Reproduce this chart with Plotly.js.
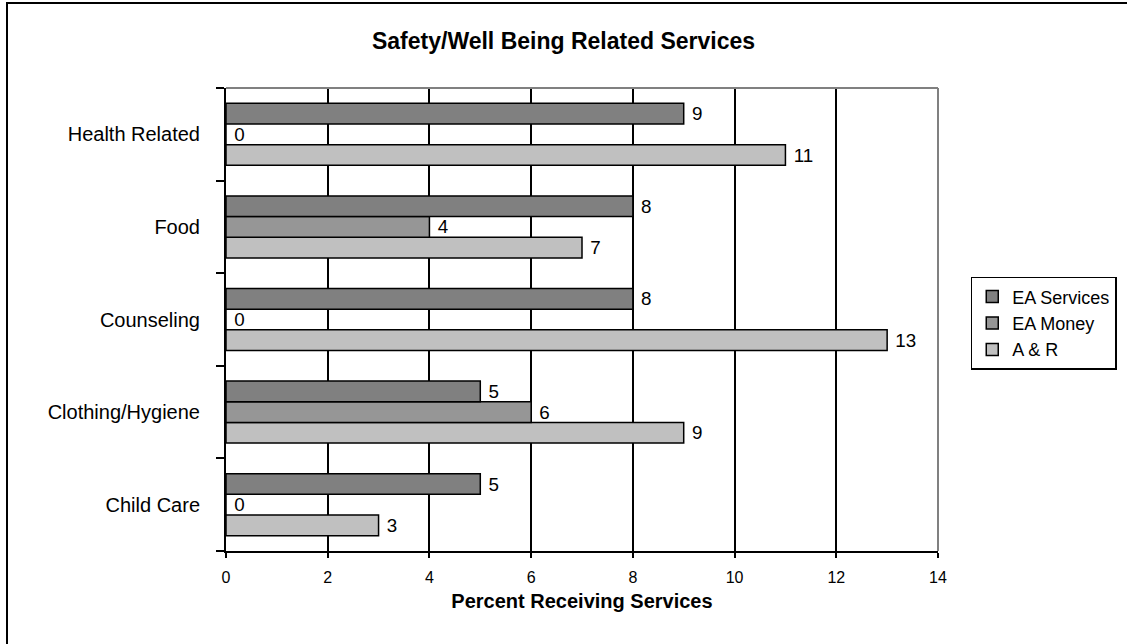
<!DOCTYPE html>
<html>
<head>
<meta charset="utf-8">
<script src="https://cdn.plot.ly/plotly-3.0.1.min.js"></script>
<style>
  html, body { margin: 0; padding: 0; background: #fff; }
  #chart { width: 1127px; height: 644px; }
  #frame { position: absolute; left: 6px; top: 2px; width: 1200px; height: 700px;
           border-left: 2px solid #000; border-top: 2px solid #000; pointer-events: none; }
</style>
</head>
<body>
<div id="chart"></div>
<div id="frame"></div>
<script>
const categories = ["Child Care", "Clothing/Hygiene", "Counseling", "Food", "Health Related"];
const eaServices = [5, 5, 8, 8, 9];
const eaMoney    = [0, 6, 0, 4, 0];
const aAndR      = [3, 9, 13, 7, 11];
const seriesNames = ["EA Services", "EA Money", "A & R"];
const xTicks = [0, 2, 4, 6, 8, 10, 12, 14];

const FONT = "Arial, 'Liberation Sans', sans-serif";

function barTrace(name, values, color) {
  return {
    type: "bar",
    orientation: "h",
    name: name,
    y: categories,
    x: values,
    texttemplate: "\u00a0%{x}",
    textposition: "outside",
    textfont: { family: FONT, size: 20, color: "#000" },
    cliponaxis: false,
    marker: { color: color, line: { color: "#000", width: 1.5 } },
    hoverinfo: "x+name"
  };
}

// Plotly places the first trace at the bottom of each group; reverse so EA Services is on top
const data = [
  barTrace(seriesNames[2], aAndR, "#c0c0c0"),
  barTrace(seriesNames[1], eaMoney, "#969696"),
  barTrace(seriesNames[0], eaServices, "#808080")
];

const layout = {
  width: 1127,
  height: 644,
  paper_bgcolor: "#fff",
  plot_bgcolor: "#fff",
  font: { family: FONT, color: "#000", size: 16 },
  margin: { l: 226, r: 189, t: 88, b: 93, autoexpand: false },
  barmode: "group",
  bargap: 0.33,
  bargroupgap: 0,
  title: {
    text: "<b>Safety/Well Being Related Services</b>",
    font: { family: FONT, size: 23, color: "#000" },
    x: 0.5, xref: "container", xanchor: "center",
    y: 1 - 41 / 644, yref: "container", yanchor: "middle"
  },
  xaxis: {
    range: [0, 14],
    tickvals: xTicks,
    ticktext: xTicks.map(String),
    tickfont: { family: FONT, size: 16, color: "#000" },
    ticks: "outside",
    ticklen: 5,
    tickwidth: 2,
    tickcolor: "#000",
    ticklabelstandoff: 6,
    showgrid: true,
    gridcolor: "#000",
    gridwidth: 2,
    showline: true,
    linecolor: "#000",
    linewidth: 2,
    zeroline: false,
    title: {
      text: "<b>Percent Receiving Services</b>",
      font: { family: FONT, size: 20, color: "#000" },
      standoff: 9
    }
  },
  yaxis: {
    type: "category",
    categoryorder: "array",
    categoryarray: categories,
    range: [-0.5, 4.5],
    tickson: "boundaries",
    ticks: "outside",
    ticklen: 8,
    tickwidth: 2,
    tickcolor: "#000",
    ticklabelstandoff: 20,
    tickfont: { family: FONT, size: 20, color: "#000" },
    showgrid: false,
    showline: true,
    linecolor: "#000",
    linewidth: 2,
    zeroline: false
  },
  shapes: [
    { type: "line", xref: "paper", yref: "paper", x0: 0, x1: 1, y0: 1, y1: 1,
      line: { color: "#808080", width: 2 }, layer: "above" },
    { type: "line", xref: "paper", yref: "paper", x0: 1, x1: 1, y0: 0, y1: 1,
      line: { color: "#808080", width: 2 }, layer: "above" }
  ],
  showlegend: true,
  legend: {
    traceorder: "reversed",
    x: 1.046, xanchor: "left",
    y: 0.592, yanchor: "top",
    bgcolor: "#fff",
    bordercolor: "#000",
    borderwidth: 1.5,
    font: { family: FONT, size: 18, color: "#000" },
    itemwidth: 30
  }
};

Plotly.newPlot("chart", data, layout, { displayModeBar: false, staticPlot: true });
</script>
</body>
</html>
